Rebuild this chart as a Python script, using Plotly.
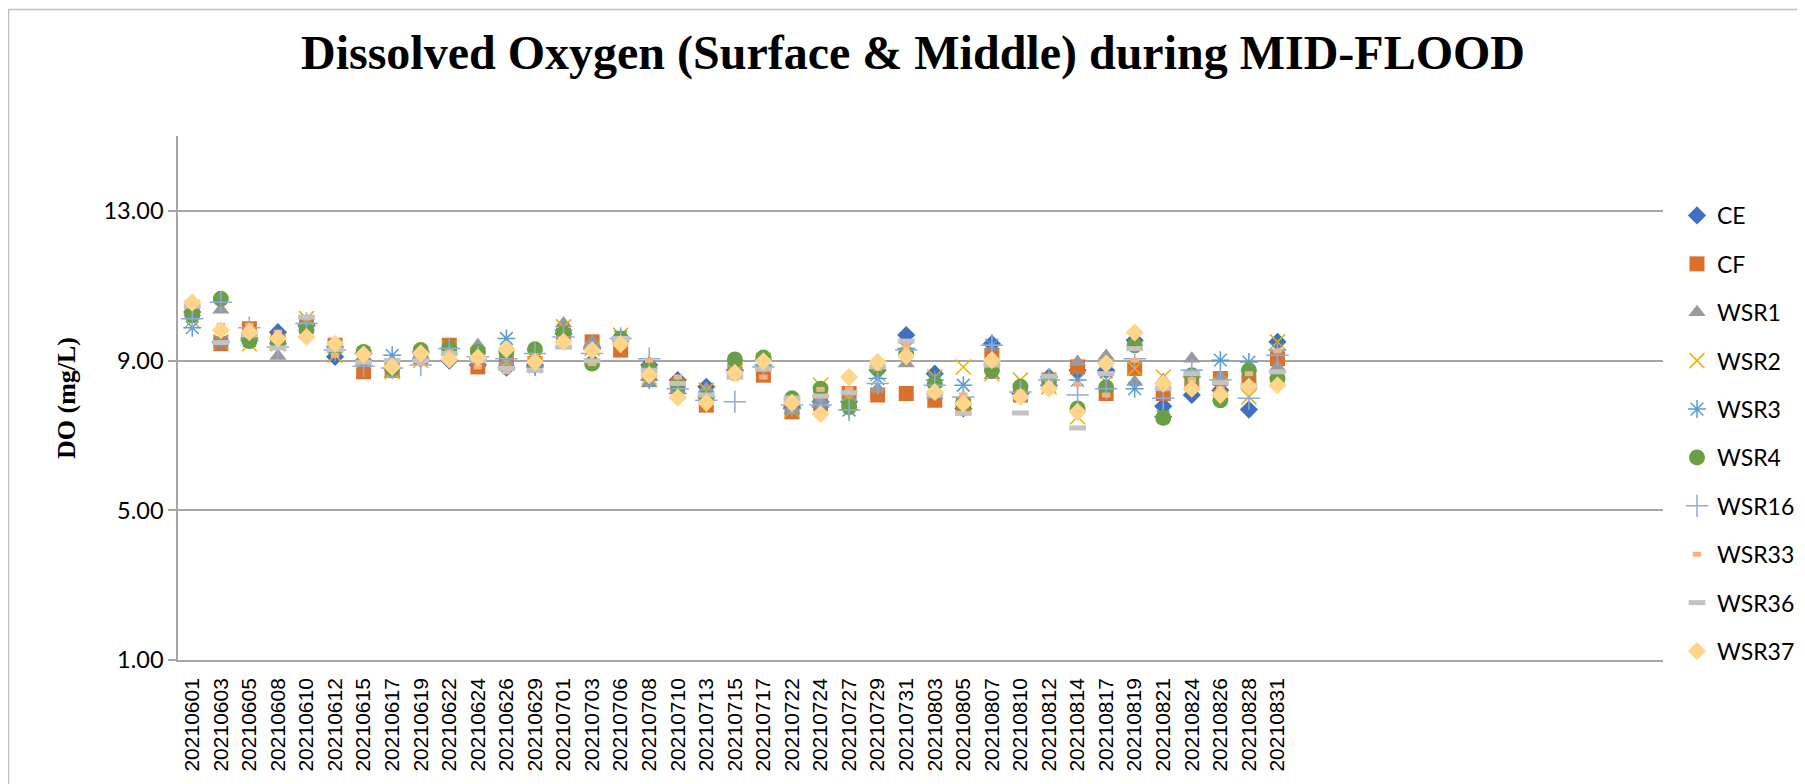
import plotly.graph_objects as go

dates = ["20210601", "20210603", "20210605", "20210608", "20210610", "20210612", "20210615",
         "20210617", "20210619", "20210622", "20210624", "20210626", "20210629", "20210701",
         "20210703", "20210706", "20210708", "20210710", "20210713", "20210715", "20210717",
         "20210722", "20210724", "20210727", "20210729", "20210731", "20210803", "20210805",
         "20210807", "20210810", "20210812", "20210814", "20210817", "20210819", "20210821",
         "20210824", "20210826", "20210828", "20210831"]
n_slots = 52  # category axis has 52 slots, only the first 39 are used

CE = [10.30, 9.50, 9.60, 9.76, 9.94, 9.10, 9.00, 8.80, 9.05, 9.00, 8.88, 8.81, 8.88, 9.72,
      9.32, 9.54, 8.88, 8.48, 8.30, 8.74, 9.01, 7.76, 7.90, 7.90, 8.74, 9.68, 8.65, 7.72,
      9.45, 8.12, 8.56, 8.74, 8.74, 9.54, 7.78, 8.08, 8.21, 7.69, 9.50]
CF = [10.42, 9.45, 9.85, 9.50, 9.99, 9.41, 8.70, 8.74, 9.10, 9.41, 8.83, 8.92, 8.92, 9.68,
      9.50, 9.28, 8.65, 8.34, 7.81, 8.74, 8.61, 7.63, 7.85, 8.12, 8.08, 8.12, 7.94, 7.81,
      9.14, 8.08, 8.48, 8.83, 8.12, 8.79, 8.12, 8.43, 8.52, 8.43, 9.05]
WSR1 = [10.30, 10.36, 9.60, 9.12, 9.99, 9.32, 9.00, 8.65, 9.14, 9.28, 9.41, 8.96, 8.79, 9.99,
        9.50, 9.54, 8.39, 8.21, 8.25, 8.79, 8.92, 7.68, 7.90, 7.99, 8.25, 8.92, 8.08, 7.90,
        8.61, 8.12, 8.39, 8.96, 9.12, 8.43, 8.48, 9.05, 8.56, 8.34, 8.83]
WSR2 = [10.07, 9.50, 9.45, 9.45, 10.12, 9.14, 9.00, 8.70, 9.00, 9.32, 9.14, 8.96, 8.92, 9.90,
        9.32, 9.68, 8.56, 8.16, 8.21, 8.70, 9.01, 7.68, 8.34, 7.99, 8.65, 9.36, 8.56, 8.83,
        8.65, 8.48, 8.30, 7.50, 8.43, 8.79, 8.56, 8.39, 8.34, 8.03, 9.50]
WSR3 = [9.88, 9.50, 9.54, 9.45, 9.94, 9.36, 9.19, 9.14, 9.23, 9.32, 9.05, 9.59, 8.83, 9.81,
        9.36, 9.63, 8.48, 8.12, 8.03, 8.74, 8.88, 7.72, 7.76, 7.68, 8.52, 9.32, 8.48, 8.34,
        9.41, 8.12, 8.34, 8.48, 8.70, 8.25, 7.50, 8.56, 9.01, 8.96, 9.28]
WSR4 = [10.21, 10.65, 9.52, 9.50, 9.81, 9.32, 9.23, 8.79, 9.28, 9.32, 9.23, 9.23, 9.30, 9.72,
        8.92, 9.59, 8.79, 8.34, 7.99, 9.03, 9.08, 7.99, 8.25, 7.76, 8.79, 9.19, 8.39, 7.85,
        8.74, 8.30, 8.48, 7.72, 8.28, 9.41, 7.47, 8.61, 7.94, 8.74, 8.52]
WSR16 = [10.12, 10.56, 9.88, 9.36, 9.99, 9.28, 8.85, 8.80, 8.88, 9.32, 9.10, 9.05, 9.19, 9.63,
         9.19, 9.59, 9.05, 8.25, 7.94, 7.90, 8.83, 7.81, 7.81, 7.68, 8.39, 9.28, 8.34, 8.03,
         9.41, 8.16, 8.48, 8.08, 8.25, 9.05, 7.99, 8.74, 8.48, 7.99, 9.14]
WSR33 = [10.50, 9.94, 9.94, 9.76, 10.16, 9.14, 9.23, 8.80, 8.92, 9.23, 8.83, 8.70, 9.10, 9.45,
         8.92, 9.45, 9.01, 8.56, 7.90, 8.52, 8.56, 7.76, 8.23, 8.24, 8.79, 9.38, 8.16, 8.08,
         9.10, 8.16, 8.39, 8.37, 8.08, 9.01, 8.25, 8.49, 8.25, 8.65, 9.26]
WSR36 = [10.45, 9.48, 9.68, 9.34, 10.16, 9.29, 8.96, 9.00, 9.00, 9.19, 9.00, 8.79, 8.74, 9.36,
         8.99, 9.59, 8.74, 8.39, 8.08, 8.56, 8.77, 8.00, 8.05, 8.14, 8.83, 9.52, 8.08, 7.59,
         8.88, 7.60, 8.58, 7.20, 8.65, 9.32, 8.25, 8.65, 8.41, 8.34, 8.70]
WSR37 = [10.55, 9.81, 9.76, 9.59, 9.63, 9.45, 9.16, 8.83, 9.19, 9.03, 9.08, 9.30, 8.96, 9.50,
         9.28, 9.44, 8.61, 8.01, 7.87, 8.67, 8.98, 7.87, 7.57, 8.56, 8.96, 9.12, 8.16, 7.85,
         9.01, 8.03, 8.25, 7.63, 8.92, 9.75, 8.39, 8.25, 8.08, 8.30, 8.34]

series_names = ["CE", "CF", "WSR1", "WSR2", "WSR3", "WSR4", "WSR16", "WSR33", "WSR36", "WSR37"]
series_values = [CE, CF, WSR1, WSR2, WSR3, WSR4, WSR16, WSR33, WSR36, WSR37]
y_ticks = [1, 5, 9, 13]

styles = {
    "CE":    dict(symbol="diamond", size=14, color="#4170BF", line=dict(width=0)),
    "CF":    dict(symbol="square", size=15, color="#D9712D", line=dict(width=0)),
    "WSR1":  dict(symbol="triangle-up", size=15, color="#9A9A9A", line=dict(width=0)),
    "WSR2":  dict(symbol="x-thin-open", size=15, color="#EDB000", line=dict(width=1.5)),
    "WSR3":  dict(symbol="asterisk-open", size=15, color="#5B9BD5", line=dict(width=1.5)),
    "WSR4":  dict(symbol="circle", size=16, color="#68A043", line=dict(width=0)),
    "WSR16": dict(symbol="cross-thin-open", size=16, color="#8FAADC", line=dict(width=1.5)),
    "WSR33": dict(symbol="line-ew-open", size=6, color="#F4B183", line=dict(width=5)),
    "WSR36": dict(symbol="line-ew-open", size=12, color="#C3C3C3", line=dict(width=5)),
    "WSR37": dict(symbol="diamond", size=14, color="#FFD58A", line=dict(width=0)),
}

x_idx = list(range(len(dates)))

fig = go.Figure()
for name, vals in zip(series_names, series_values):
    fig.add_trace(go.Scatter(
        x=x_idx, y=vals, mode="markers", name=name, legendgroup=name,
        marker=styles[name],
    ))

W, H = 1805, 784
ml, mr, mt, mb = 170, 150, 128, 132
pw, ph = W - ml - mr, H - mt - mb

def px_to_paper_x(px):
    return (px - ml) / pw

def px_to_paper_y(py):
    return (H - mb - py) / ph

grid_col = "#A6A6A6"

fig.update_layout(
    width=W, height=H,
    margin=dict(l=ml, r=mr, t=mt, b=mb, autoexpand=False),
    paper_bgcolor="white", plot_bgcolor="white",
    title=dict(
        text="Dissolved Oxygen (Surface & Middle) during MID-FLOOD",
        font=dict(family="Liberation Serif, Times New Roman, serif", size=48, color="black", weight="bold"),
        x=905 / W, xanchor="center", xref="container",
        y=1 - 44 / H, yanchor="middle", yref="container",
    ),
    xaxis=dict(
        range=[-0.5, n_slots - 0.5],
        tickmode="array", tickvals=x_idx, ticktext=dates, tickangle=-90,
        tickfont=dict(family="Liberation Sans, Arial, sans-serif", size=21, color="black"),
        showgrid=False, zeroline=False,
        showline=True, linecolor=grid_col, linewidth=1.5,
        ticks="outside", ticklen=8, tickcolor="rgba(0,0,0,0)",
    ),
    yaxis=dict(
        range=[1, 15], tickmode="array", tickvals=y_ticks, tickformat=".2f",
        tickfont=dict(family="Lato, Carlito, Calibri, sans-serif", size=23.5, color="black"),
        showgrid=True, gridcolor=grid_col, gridwidth=1.5, zeroline=False,
        showline=True, linecolor=grid_col, linewidth=1.5,
        ticks="outside", ticklen=8, tickcolor=grid_col, tickwidth=1.5,
        title=dict(text="DO (mg/L)", standoff=20,
                   font=dict(family="Liberation Serif, Times New Roman, serif", size=26,
                             color="black", weight="bold")),
    ),
    legend=dict(
        x=px_to_paper_x(1669), xanchor="left",
        y=px_to_paper_y(186), yanchor="top",
        font=dict(family="Lato, Carlito, Calibri, sans-serif", size=23, color="black"),
        tracegroupgap=15.5, bgcolor="rgba(0,0,0,0)",
        itemclick=False, itemdoubleclick=False,
    ),
    showlegend=True,
)

fig.add_shape(
    type="rect", xref="paper", yref="paper",
    x0=px_to_paper_x(0.5), x1=px_to_paper_x(1810),
    y0=px_to_paper_y(800), y1=px_to_paper_y(1.5),
    line=dict(color="#BFBFBF", width=1.5), fillcolor="rgba(0,0,0,0)", layer="below",
)

fig.write_html("out.html")
